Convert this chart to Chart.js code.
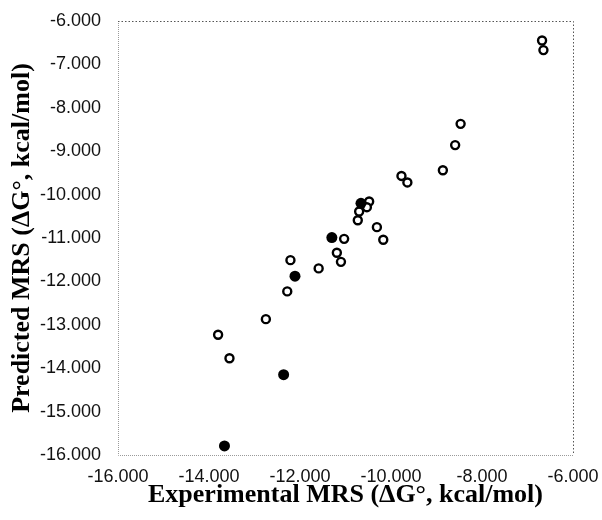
<!DOCTYPE html>
<html>
<head>
<meta charset="utf-8">
<script src="https://cdn.jsdelivr.net/npm/chart.js@4/dist/chart.umd.min.js"></script>
<style>
html,body{margin:0;padding:0;background:#fff;}
#wrap{width:602px;height:520px;}
</style>
</head>
<body>
<div id="wrap"><canvas id="c" width="602" height="520"></canvas></div>
<script>
// Data
const openX = [-6.68,-6.65,-8.47,-8.59,-8.86,-9.77,-9.64,-10.48,-10.53,-10.70,-10.73,-10.31,-10.17,-11.03,-11.19,-11.10,-11.59,-12.21,-12.28,-12.75,-13.80,-13.55];
const openY = [-6.45,-6.67,-8.37,-8.86,-9.44,-9.57,-9.72,-10.16,-10.29,-10.39,-10.59,-10.75,-11.04,-11.02,-11.34,-11.55,-11.70,-11.51,-12.23,-12.87,-13.23,-13.77];
const filledX = [-10.66,-11.30,-12.11,-12.36,-13.66];
const filledY = [-10.20,-10.99,-11.88,-14.15,-15.79];
const xTicks = [-16,-14,-12,-10,-8,-6];
const yTicks = [-6,-7,-8,-9,-10,-11,-12,-13,-14,-15,-16];
const xTitle = 'Experimental MRS (\u0394G\u00B0, kcal/mol)';
const yTitle = 'Predicted MRS (\u0394G\u00B0, kcal/mol)';

const toPts = (xs, ys) => xs.map((x, i) => ({x: x, y: ys[i]}));

const frame = {
  id: 'frame',
  afterDatasetsDraw(chart) {
    const {ctx, chartArea: a} = chart;
    ctx.save();
    ctx.lineWidth = 1;
    ctx.strokeStyle = '#9a9a9a';
    ctx.setLineDash([1, 1]);
    ctx.beginPath();
    ctx.moveTo(a.left + 0.5, a.top);
    ctx.lineTo(a.left + 0.5, a.bottom + 0.5);
    ctx.lineTo(a.right, a.bottom + 0.5);
    ctx.stroke();
    ctx.strokeStyle = '#555';
    ctx.setLineDash([1.5, 2]);
    ctx.beginPath();
    ctx.moveTo(a.left, a.top + 0.5);
    ctx.lineTo(a.right + 0.5, a.top + 0.5);
    ctx.lineTo(a.right + 0.5, a.bottom);
    ctx.stroke();
    ctx.restore();
  }
};

const zeroPad = s => { s.paddingTop = 0; s.paddingBottom = 0; s.paddingLeft = 0; s.paddingRight = 0; };

const tickFont = {family: '"Liberation Sans", Arial, sans-serif', size: 18};
const titleFont = {family: '"Liberation Serif", "Times New Roman", serif', size: 26, weight: 'bold'};

new Chart(document.getElementById('c'), {
  type: 'scatter',
  data: {
    datasets: [
      {
        label: 'filled',
        data: toPts(filledX, filledY),
        pointStyle: 'circle',
        pointRadius: 5.5,
        pointBackgroundColor: '#000',
        pointBorderColor: '#000',
        pointBorderWidth: 0,
        order: 0
      },
      {
        label: 'open',
        data: toPts(openX, openY),
        pointStyle: 'circle',
        pointRadius: 4,
        pointBackgroundColor: '#fff',
        pointBorderColor: '#000',
        pointBorderWidth: 2.4,
        order: 1
      }
    ]
  },
  options: {
    responsive: false,
    animation: false,
    events: [],
    layout: {padding: {top: 21, right: 29, left: 0, bottom: 0}},
    plugins: {legend: {display: false}, tooltip: {enabled: false}},
    scales: {
      x: {
        type: 'linear',
        min: -16, max: -6,
        afterBuildTicks: s => { s.ticks = xTicks.map(v => ({value: v})); },
        afterFit: s => { s.height = 65; zeroPad(s); },
        grid: {display: false, drawTicks: false},
        border: {display: false},
        ticks: {
          color: '#111', font: tickFont, padding: 11, maxRotation: 0,
          callback: v => Number(v).toFixed(3)
        },
        title: {display: true, text: xTitle, color: '#000', font: titleFont, padding: {top: 0, bottom: 9}}
      },
      y: {
        type: 'linear',
        min: -16, max: -6,
        afterBuildTicks: s => { s.ticks = yTicks.map(v => ({value: v})); },
        afterFit: s => { s.width = 118; zeroPad(s); },
        grid: {display: false, drawTicks: false},
        border: {display: false},
        ticks: {
          color: '#111', font: tickFont, padding: 17,
          callback: v => Number(v).toFixed(3)
        },
        title: {display: true, text: yTitle, color: '#000', font: titleFont, padding: {top: 7, bottom: 0}}
      }
    }
  },
  plugins: [frame]
});
</script>
</body>
</html>
